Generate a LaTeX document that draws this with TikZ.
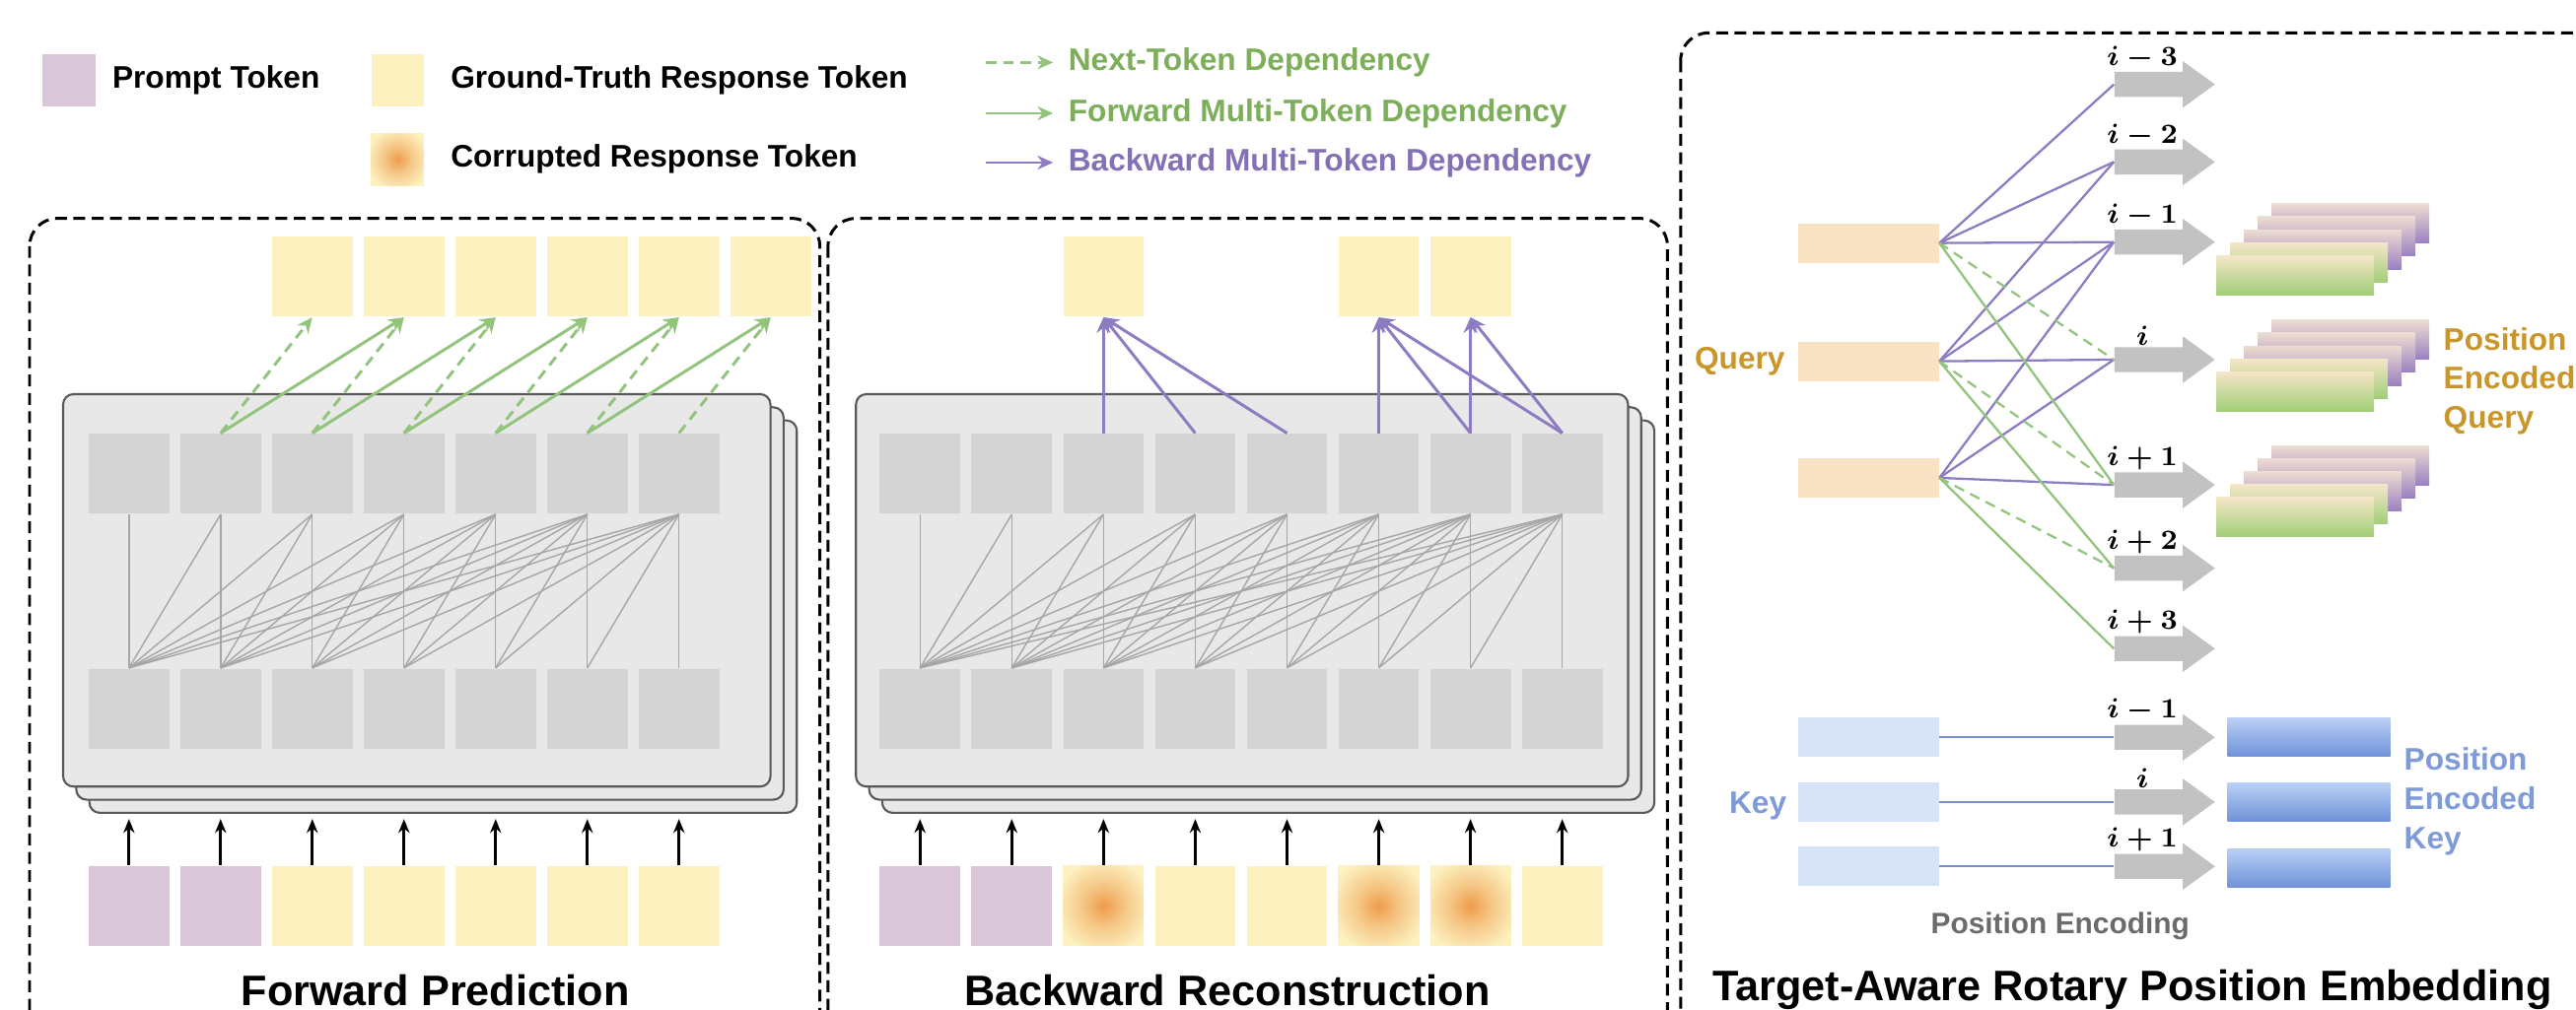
\documentclass[tikz,border=0pt]{standalone}
\usepackage{fontspec}
\setmainfont{Liberation Sans}
\usetikzlibrary{arrows.meta,shapes.arrows}

\definecolor{promptpurple}{HTML}{D9C6D8}
\definecolor{tokyellow}{HTML}{FCF1BF}
\definecolor{corrorange}{HTML}{EE9C4C}
\colorlet{corrmid}{corrorange!50!tokyellow}
\definecolor{cellgray}{HTML}{D4D4D4}
\definecolor{layergray}{HTML}{E8E8E8}
\definecolor{depgreen}{HTML}{93C47D}
\definecolor{deppurple}{HTML}{8E7CC3}
\definecolor{txtgreen}{HTML}{7DAE5A}
\definecolor{txtpurple}{HTML}{8471B5}
\definecolor{querypeach}{HTML}{F9E1C4}
\definecolor{querygold}{HTML}{C8962A}
\definecolor{keyblue}{HTML}{D6E3F7}
\definecolor{keytxt}{HTML}{7E9BD8}
\definecolor{keylight}{HTML}{B9CFF5}
\definecolor{keydark}{HTML}{6F92D8}
\definecolor{encpink}{HTML}{EDDCD2}
\definecolor{encpurple}{HTML}{9A80C0}
\definecolor{enccream}{HTML}{F4E6C8}
\definecolor{encgreen}{HTML}{A0CE76}
\definecolor{arrowgray}{HTML}{C2C2C2}
\definecolor{linkblue}{HTML}{7B8ED0}

\pgfdeclareradialshading{corrupt}{\pgfpoint{0bp}{0bp}}{%
  color(0bp)=(corrorange); color(13bp)=(corrmid);
  color(30bp)=(tokyellow); color(50bp)=(tokyellow)}

\begin{document}
\begin{tikzpicture}[x=0.016667cm, y=-0.016667cm,
    tok/.style={minimum width=0.817cm, minimum height=0.81cm, inner sep=0pt},
    ptok/.style={tok, fill=promptpurple},
    ytok/.style={tok, fill=tokyellow},
    ctok/.style={tok, shade, shading=corrupt},
    cell/.style={tok, fill=cellgray},
    layer/.style={draw=black!65, fill=layergray, rounded corners=3pt, line width=0.6pt},
    panel/.style={draw, dash pattern=on 3.4pt off 1.9pt, line width=0.85pt, rounded corners=8pt},
    attn/.style={draw=black!35, line width=0.4pt},
    inarrow/.style={-{Stealth[length=4pt,width=3.2pt]}, line width=0.8pt},
    nextdep/.style={depgreen, dash pattern=on 3pt off 2pt, line width=0.85pt, -{Stealth[length=4.5pt,width=4pt]}},
    fwddep/.style={depgreen, line width=0.85pt, -{Stealth[length=4.5pt,width=4pt]}},
    bwddep/.style={deppurple, line width=0.85pt, -{Stealth[length=4.5pt,width=4pt]}},
    qnext/.style={depgreen, dash pattern=on 3pt off 2pt, line width=0.65pt},
    qfwd/.style={depgreen, line width=0.65pt},
    qbwd/.style={deppurple, line width=0.65pt},
    pearrow/.style={single arrow, fill=arrowgray, inner xsep=0pt, inner ysep=0.12cm,
      minimum height=1.018cm, single arrow head extend=0.11cm, single arrow tip angle=72, anchor=tail},
    idx/.style={font=\fontsize{8}{9}\selectfont\boldmath, inner sep=0pt, anchor=south},
    qbox/.style={minimum width=1.425cm, minimum height=0.4cm, inner sep=0pt, fill=querypeach},
    kbox/.style={qbox, fill=keyblue},
    encb/.style={minimum width=1.6cm, minimum height=0.4cm, inner sep=0pt, shade, top color=encpink, bottom color=encpurple},
    encf/.style={encb, top color=enccream, bottom color=encgreen},
    enck/.style={minimum width=1.65cm, minimum height=0.39cm, inner sep=0pt, shade, top color=keylight, bottom color=keydark},
    lgtext/.style={anchor=west, inner sep=0pt, font=\fontsize{9}{11}\selectfont\bfseries},
    lbl/.style={inner sep=0pt, align=left, font=\fontsize{9}{11.3}\selectfont\bfseries},
    ttl/.style={inner sep=0pt, font=\fontsize{12.3}{14}\selectfont\bfseries}]
  \useasboundingbox (0,0) rectangle (1568,615);
  \clip (0,0) rectangle (1568,615);

  % Legend
  \node[ptok, minimum width=0.533cm, minimum height=0.533cm] (lgp) at (42,49) {};
  \node[lgtext] (lgptxt) at (68,49) {Prompt Token};
  \node[ytok, minimum width=0.533cm, minimum height=0.533cm] (lgy) at (242,49) {};
  \node[lgtext] (lgytxt) at (274,49) {Ground-Truth Response Token};
  \node[ctok, minimum width=0.533cm, minimum height=0.533cm] (lgc) at (242,97) {};
  \node[lgtext] (lgctxt) at (274,97) {Corrupted Response Token};
  \node[lgtext, txtgreen] (lgnext) at (650,38) {Next-Token Dependency};
  \node[lgtext, txtgreen] (lgfwd) at (650,69) {Forward Multi-Token Dependency};
  \node[lgtext, txtpurple] (lgbwd) at (650,99) {Backward Multi-Token Dependency};
  \draw[nextdep, line width=0.7pt] ([xshift=-0.83cm]lgnext.west) -- ([xshift=-0.15cm]lgnext.west);
  \draw[fwddep, line width=0.7pt] ([xshift=-0.83cm]lgfwd.west) -- ([xshift=-0.15cm]lgfwd.west);
  \draw[bwddep, line width=0.7pt] ([xshift=-0.83cm]lgbwd.west) -- ([xshift=-0.15cm]lgbwd.west);

  % Forward Prediction
  \draw[panel] (18,133) rectangle (499,700);
  \foreach \d in {16,8,0}
    \draw[layer] (38.4+\d,240+\d) rectangle (469+\d,479+\d);
  \foreach \k in {1,...,7} {
    \node[cell] (fu\k) at (22.7+55.8*\k,288.5) {};
    \node[cell] (fl\k) at (22.7+55.8*\k,431.5) {};
  }
  \foreach \k/\s in {1/ptok,2/ptok,3/ytok,4/ytok,5/ytok,6/ytok,7/ytok}
    \node[\s] (fi\k) at (22.7+55.8*\k,551.5) {};
  \foreach \k in {1,...,6}
    \node[ytok] (fo\k) at (134.3+55.8*\k,168.5) {};
  \foreach \i in {1,...,7}
    \foreach \j in {\i,...,7}
      \draw[attn] (fl\i.north) -- (fu\j.south);
  \foreach \k in {1,...,7}
    \draw[inarrow] (fi\k.north) -- ++(0,-28);
  \foreach \k [evaluate=\k as \n using int(\k+1)] in {1,...,6}
    \draw[nextdep] (fu\n.north) -- (fo\k.south);
  \foreach \k in {2,...,6}
    \draw[fwddep] (fu\k.north) -- (fo\k.south);
  \node[ttl] (fwdtitle) at (265,603) {Forward Prediction};

  % Backward Reconstruction
  \draw[panel] (504,133) rectangle (1015,700);
  \foreach \d in {16,8,0}
    \draw[layer] (521+\d,240+\d) rectangle (991+\d,479+\d);
  \foreach \k in {1,...,8} {
    \node[cell] (bu\k) at (504.15+55.85*\k,288.5) {};
    \node[cell] (bl\k) at (504.15+55.85*\k,431.5) {};
  }
  \foreach \k/\s in {1/ptok,2/ptok,3/ctok,4/ytok,5/ytok,6/ctok,7/ctok,8/ytok}
    \node[\s] (bi\k) at (504.15+55.85*\k,551.5) {};
  \foreach \k/\c in {1/3,2/6,3/7}
    \node[ytok] (bo\k) at (bu\c |- 0,168.5) {};
  \foreach \i in {1,...,8}
    \foreach \j in {\i,...,8}
      \draw[attn] (bl\i.north) -- (bu\j.south);
  \foreach \k in {1,...,8}
    \draw[inarrow] (bi\k.north) -- ++(0,-28);
  \foreach \s/\t in {3/1,4/1,5/1,6/2,7/2,8/2,7/3,8/3}
    \draw[bwddep] (bu\s.north) -- (bo\t.south);
  \node[ttl] (bwdtitle) at (747,603) {Backward Reconstruction};

  % Target-Aware Rotary Position Embedding
  \draw[panel] (1023,20) rectangle (1640,700);
  \foreach \n/\y/\t in {am3/51.4/i-3, am2/98.6/i-2, am1/147.4/i-1, a0/219/i,
      ap1/295.3/i+1, ap2/346/i+2, ap3/395/i+3, km1/449/i-1, k0/488.4/i, kp1/527.6/i+1} {
    \node[pearrow] (\n) at (1286.7,\y) {};
    \node[idx] (\n-l) at (1304,\y-8.5) {$\t$};
  }
  \foreach \q/\y in {1/148,2/220,3/291}
    \node[qbox] (q\q) at (1137.3,\y) {};
  \foreach \q/\y in {1/449,2/488.4,3/527.6}
    \node[kbox] (k\q) at (1137.3,\y) {};
  \foreach \q/\a in {q1/am3,q1/am2,q1/am1,q2/am2,q2/am1,q2/a0,q3/am1,q3/a0,q3/ap1}
    \draw[qbwd] (\q.east) -- (\a.tail);
  \foreach \q/\a in {q1/a0,q2/ap1,q3/ap2}
    \draw[qnext] (\q.east) -- (\a.tail);
  \foreach \q/\a in {q1/ap1,q2/ap2,q3/ap3}
    \draw[qfwd] (\q.east) -- (\a.tail);
  \foreach \q/\a in {k1/km1,k2/k0,k3/kp1}
    \draw[linkblue, line width=0.65pt] (\q.east) -- (\a.tail);
  \foreach \y [count=\q] in {167.7,238.5,315}
    \foreach \d/\s in {4/encb,3/encb,2/encb,1/encf,0/encf}
      \node[\s] (eq\q-\d) at (1397+8.4*\d,\y-7.9*\d) {};
  \foreach \y [count=\q] in {449,488.5,528.5}
    \node[enck] (ek\q) at (1405.5,\y) {};
  \node[lbl, querygold] (qtxt) at (1059,220) {Query};
  \node[lbl, querygold, anchor=west] (eqtxt) at (1487,232) {Position\\Encoded\\Query};
  \node[lbl, keytxt] (ktxt) at (1070,491) {Key};
  \node[lbl, keytxt, anchor=west] (ektxt) at (1463,488) {Position\\Encoded\\Key};
  \node[lbl, black!58, font=\fontsize{8.5}{10}\selectfont\bfseries] (petxt) at (1254,564) {Position Encoding};
  \node[ttl] (ropetitle) at (1298,603) {Target-Aware Rotary Position Embedding};
\end{tikzpicture}
\end{document}
